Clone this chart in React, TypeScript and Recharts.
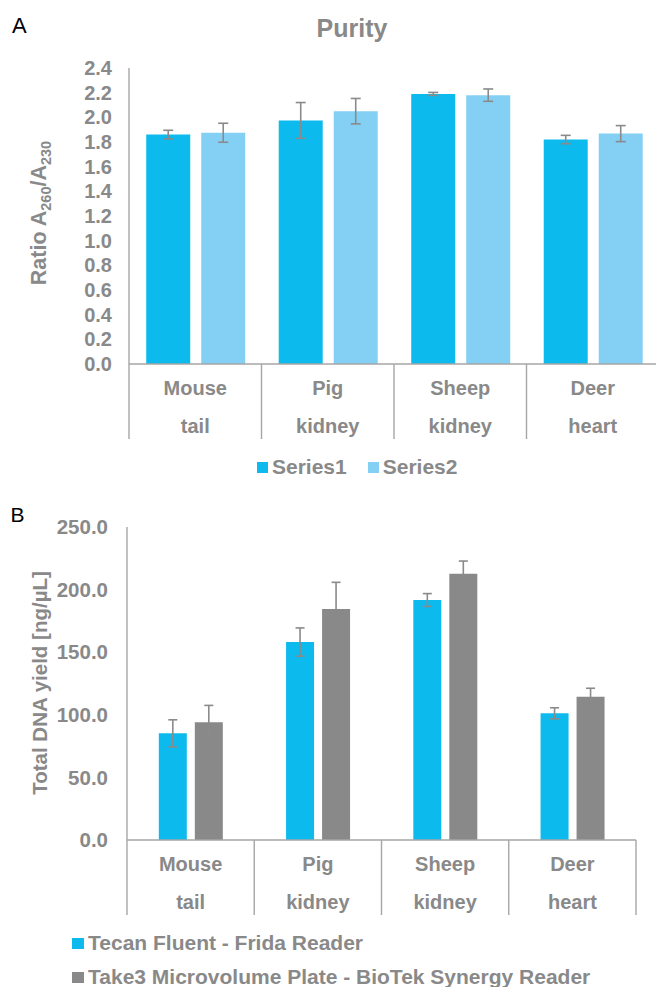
import React from 'react';
import { BarChart, Bar, XAxis, YAxis, ErrorBar, Legend } from 'recharts';

// ---------- data ----------
const categories = ['Mouse tail', 'Pig kidney', 'Sheep kidney', 'Deer heart'];

const puritySeries1 = [1.86, 1.975, 2.19, 1.82];
const puritySeries1Err = [0.035, 0.145, 0.012, 0.034];
const puritySeries2 = [1.875, 2.05, 2.18, 1.868];
const puritySeries2Err = [0.077, 0.103, 0.05, 0.065];
const purityTicks = [0, 0.2, 0.4, 0.6, 0.8, 1.0, 1.2, 1.4, 1.6, 1.8, 2.0, 2.2, 2.4];

const yieldTecan = [85.2, 158.1, 191.7, 101.2];
const yieldTecanErr = [10.8, 11.3, 5.1, 4.4];
const yieldTake3 = [94.0, 184.5, 212.7, 114.5];
const yieldTake3Err = [13.5, 21.3, 10.1, 6.7];
const yieldTicks = [0, 50, 100, 150, 200, 250];

const purityNames = ['Series1', 'Series2'];
const yieldNames = ['Tecan Fluent - Frida Reader', 'Take3 Microvolume Plate - BioTek Synergy Reader'];

const purityData = categories.map((c, i) => ({
  name: c,
  s1: puritySeries1[i],
  s1Err: puritySeries1Err[i],
  s2: puritySeries2[i],
  s2Err: puritySeries2Err[i],
}));

const yieldData = categories.map((c, i) => ({
  name: c,
  t1: yieldTecan[i],
  t1Err: yieldTecanErr[i],
  t2: yieldTake3[i],
  t2Err: yieldTake3Err[i],
}));

// ---------- styles ----------
const FONT = '"Liberation Sans", Arial, sans-serif';
const TEXT = '#898989';
const AXIS = '#a6a6a6';
const ERR = '#8a8a8a';
const CYAN = '#0dbaee';
const LIGHT = '#84d0f5';
const GRAY = '#898989';

const C1 = { w: 662, h: 490, top: 68, right: 3, bottom: 51, yW: 129, xH: 75 };
const C2 = { w: 662, h: 497, top: 37, right: 26, bottom: 72, yW: 127, xH: 75 };

function CategoryTick(props: any) {
  const { x, y, payload, index, visibleTicksCount, band } = props;
  const parts = String(payload.value).split(' ');
  const left = x - band / 2;
  const last = index === visibleTicksCount - 1;
  return (
    <g>
      <line x1={left} x2={left} y1={y} y2={y + 75} stroke={AXIS} strokeWidth={1.4} />
      {last && <line x1={left + band} x2={left + band} y1={y} y2={y + 75} stroke={AXIS} strokeWidth={1.4} />}
      <text x={x} y={y + 31} textAnchor="middle" fill={TEXT} fontSize={20} fontWeight="bold" fontFamily={FONT}>
        {parts[0]}
      </text>
      <text x={x} y={y + 69} textAnchor="middle" fill={TEXT} fontSize={20} fontWeight="bold" fontFamily={FONT}>
        {parts[1]}
      </text>
    </g>
  );
}

function PurityYLabel() {
  return (
    <text
      transform="translate(46,213) rotate(-90)"
      textAnchor="middle"
      fill={TEXT}
      fontSize={21.5}
      fontWeight="bold"
      fontFamily={FONT}
    >
      <tspan>Ratio A</tspan>
      <tspan fontSize={14.5} dy={5}>260</tspan>
      <tspan dy={-5}>/A</tspan>
      <tspan fontSize={14.5} dy={5}>230</tspan>
    </text>
  );
}

function YieldYLabel() {
  return (
    <text
      transform="translate(47,193) rotate(-90)"
      textAnchor="middle"
      fill={TEXT}
      fontSize={20.5}
      fontWeight="bold"
      fontFamily={FONT}
    >
      Total DNA yield [ng/µL]
    </text>
  );
}

function orderBy(payload: any[], names: string[]) {
  return [...(payload || [])].sort((a, b) => names.indexOf(a.value) - names.indexOf(b.value));
}

function HLegend(props: any) {
  const items = orderBy(props.payload, purityNames);
  return (
    <div style={{ display: 'flex', alignItems: 'center', fontFamily: FONT }}>
      {items.map((p: any, i: number) => (
        <div key={i} style={{ display: 'flex', alignItems: 'center', marginRight: 21 }}>
          <div style={{ width: 11, height: 11, background: p.color, marginRight: 4 }} />
          <span style={{ color: TEXT, fontSize: 21, fontWeight: 'bold', lineHeight: '22px' }}>{p.value}</span>
        </div>
      ))}
    </div>
  );
}

function VLegend(props: any) {
  const items = orderBy(props.payload, yieldNames);
  return (
    <div style={{ fontFamily: FONT }}>
      {items.map((p: any, i: number) => (
        <div key={i} style={{ display: 'flex', alignItems: 'center', height: 34 }}>
          <div style={{ width: 12, height: 11, background: p.color, marginRight: 4 }} />
          <span style={{ color: TEXT, fontSize: 21, fontWeight: 'bold', lineHeight: '20px', whiteSpace: 'nowrap' }}>
            {p.value}
          </span>
        </div>
      ))}
    </div>
  );
}

export default function App() {
  const band1 = (C1.w - C1.right - C1.yW) / categories.length;
  const band2 = (C2.w - C2.right - C2.yW) / categories.length;
  return (
    <div
      style={{
        position: 'absolute',
        left: 0,
        top: 0,
        width: 656,
        height: 987,
        overflow: 'hidden',
        background: '#fff',
        fontFamily: FONT,
      }}
    >
      <div style={{ position: 'absolute', left: 12, top: 15, fontSize: 22, lineHeight: '22px', color: '#000', fontFamily: FONT }}>
        A
      </div>
      <div
        style={{
          position: 'absolute',
          left: 352,
          top: 16,
          transform: 'translateX(-50%)',
          fontSize: 25,
          lineHeight: '25px',
          fontWeight: 'bold',
          color: TEXT,
          fontFamily: FONT,
        }}
      >
        Purity
      </div>
      <div style={{ position: 'absolute', left: 0, top: 0 }}>
        <BarChart
          width={C1.w}
          height={C1.h}
          data={purityData}
          margin={{ top: C1.top, right: C1.right, bottom: C1.bottom, left: 0 }}
          barCategoryGap="13%"
          barGap={11}
        >
          <XAxis
            dataKey="name"
            height={C1.xH}
            axisLine={{ stroke: AXIS, strokeWidth: 1.4 }}
            tickLine={false}
            tickSize={0}
            tickMargin={0}
            interval={0}
            tick={<CategoryTick band={band1} />}
          />
          <YAxis
            width={C1.yW}
            domain={[0, 2.4]}
            ticks={purityTicks}
            interval={0}
            tickFormatter={(v: number) => v.toFixed(1)}
            axisLine={{ stroke: AXIS, strokeWidth: 1.4 }}
            tickLine={false}
            tickSize={0}
            tickMargin={17}
            tick={{ fill: TEXT, fontSize: 20, fontWeight: 'bold', fontFamily: FONT }}
            label={<PurityYLabel />}
          />
          <Legend
            layout="horizontal"
            verticalAlign="middle"
            align="center"
            wrapperStyle={{ left: 257, top: 456, width: 400 }}
            content={<HLegend />}
          />
          <Bar dataKey="s1" name={purityNames[0]} fill={CYAN} isAnimationActive={false}>
            <ErrorBar dataKey="s1Err" width={5} stroke={ERR} strokeWidth={1.6} direction="y" />
          </Bar>
          <Bar dataKey="s2" name={purityNames[1]} fill={LIGHT} isAnimationActive={false}>
            <ErrorBar dataKey="s2Err" width={5} stroke={ERR} strokeWidth={1.6} direction="y" />
          </Bar>
        </BarChart>
      </div>
      <div style={{ position: 'absolute', left: 10.5, top: 504, fontSize: 21, lineHeight: '21px', color: '#000', fontFamily: FONT }}>
        B
      </div>
      <div style={{ position: 'absolute', left: 0, top: 490 }}>
        <BarChart
          width={C2.w}
          height={C2.h}
          data={yieldData}
          margin={{ top: C2.top, right: C2.right, bottom: C2.bottom, left: 0 }}
          barCategoryGap="25%"
          barGap={8}
        >
          <XAxis
            dataKey="name"
            height={C2.xH}
            axisLine={{ stroke: AXIS, strokeWidth: 1.4 }}
            tickLine={false}
            tickSize={0}
            tickMargin={0}
            interval={0}
            tick={<CategoryTick band={band2} />}
          />
          <YAxis
            width={C2.yW}
            domain={[0, 250]}
            ticks={yieldTicks}
            interval={0}
            tickFormatter={(v: number) => v.toFixed(1)}
            axisLine={{ stroke: AXIS, strokeWidth: 1.4 }}
            tickLine={false}
            tickSize={0}
            tickMargin={19}
            tick={{ fill: TEXT, fontSize: 20.5, fontWeight: 'bold', fontFamily: FONT }}
            label={<YieldYLabel />}
          />
          <Legend
            layout="horizontal"
            verticalAlign="middle"
            align="center"
            wrapperStyle={{ left: 72, top: 436, width: 590 }}
            content={<VLegend />}
          />
          <Bar dataKey="t1" name={yieldNames[0]} fill={CYAN} isAnimationActive={false}>
            <ErrorBar dataKey="t1Err" width={4.5} stroke={ERR} strokeWidth={1.6} direction="y" />
          </Bar>
          <Bar dataKey="t2" name={yieldNames[1]} fill={GRAY} isAnimationActive={false}>
            <ErrorBar dataKey="t2Err" width={4.5} stroke={ERR} strokeWidth={1.6} direction="y" />
          </Bar>
        </BarChart>
      </div>
    </div>
  );
}
